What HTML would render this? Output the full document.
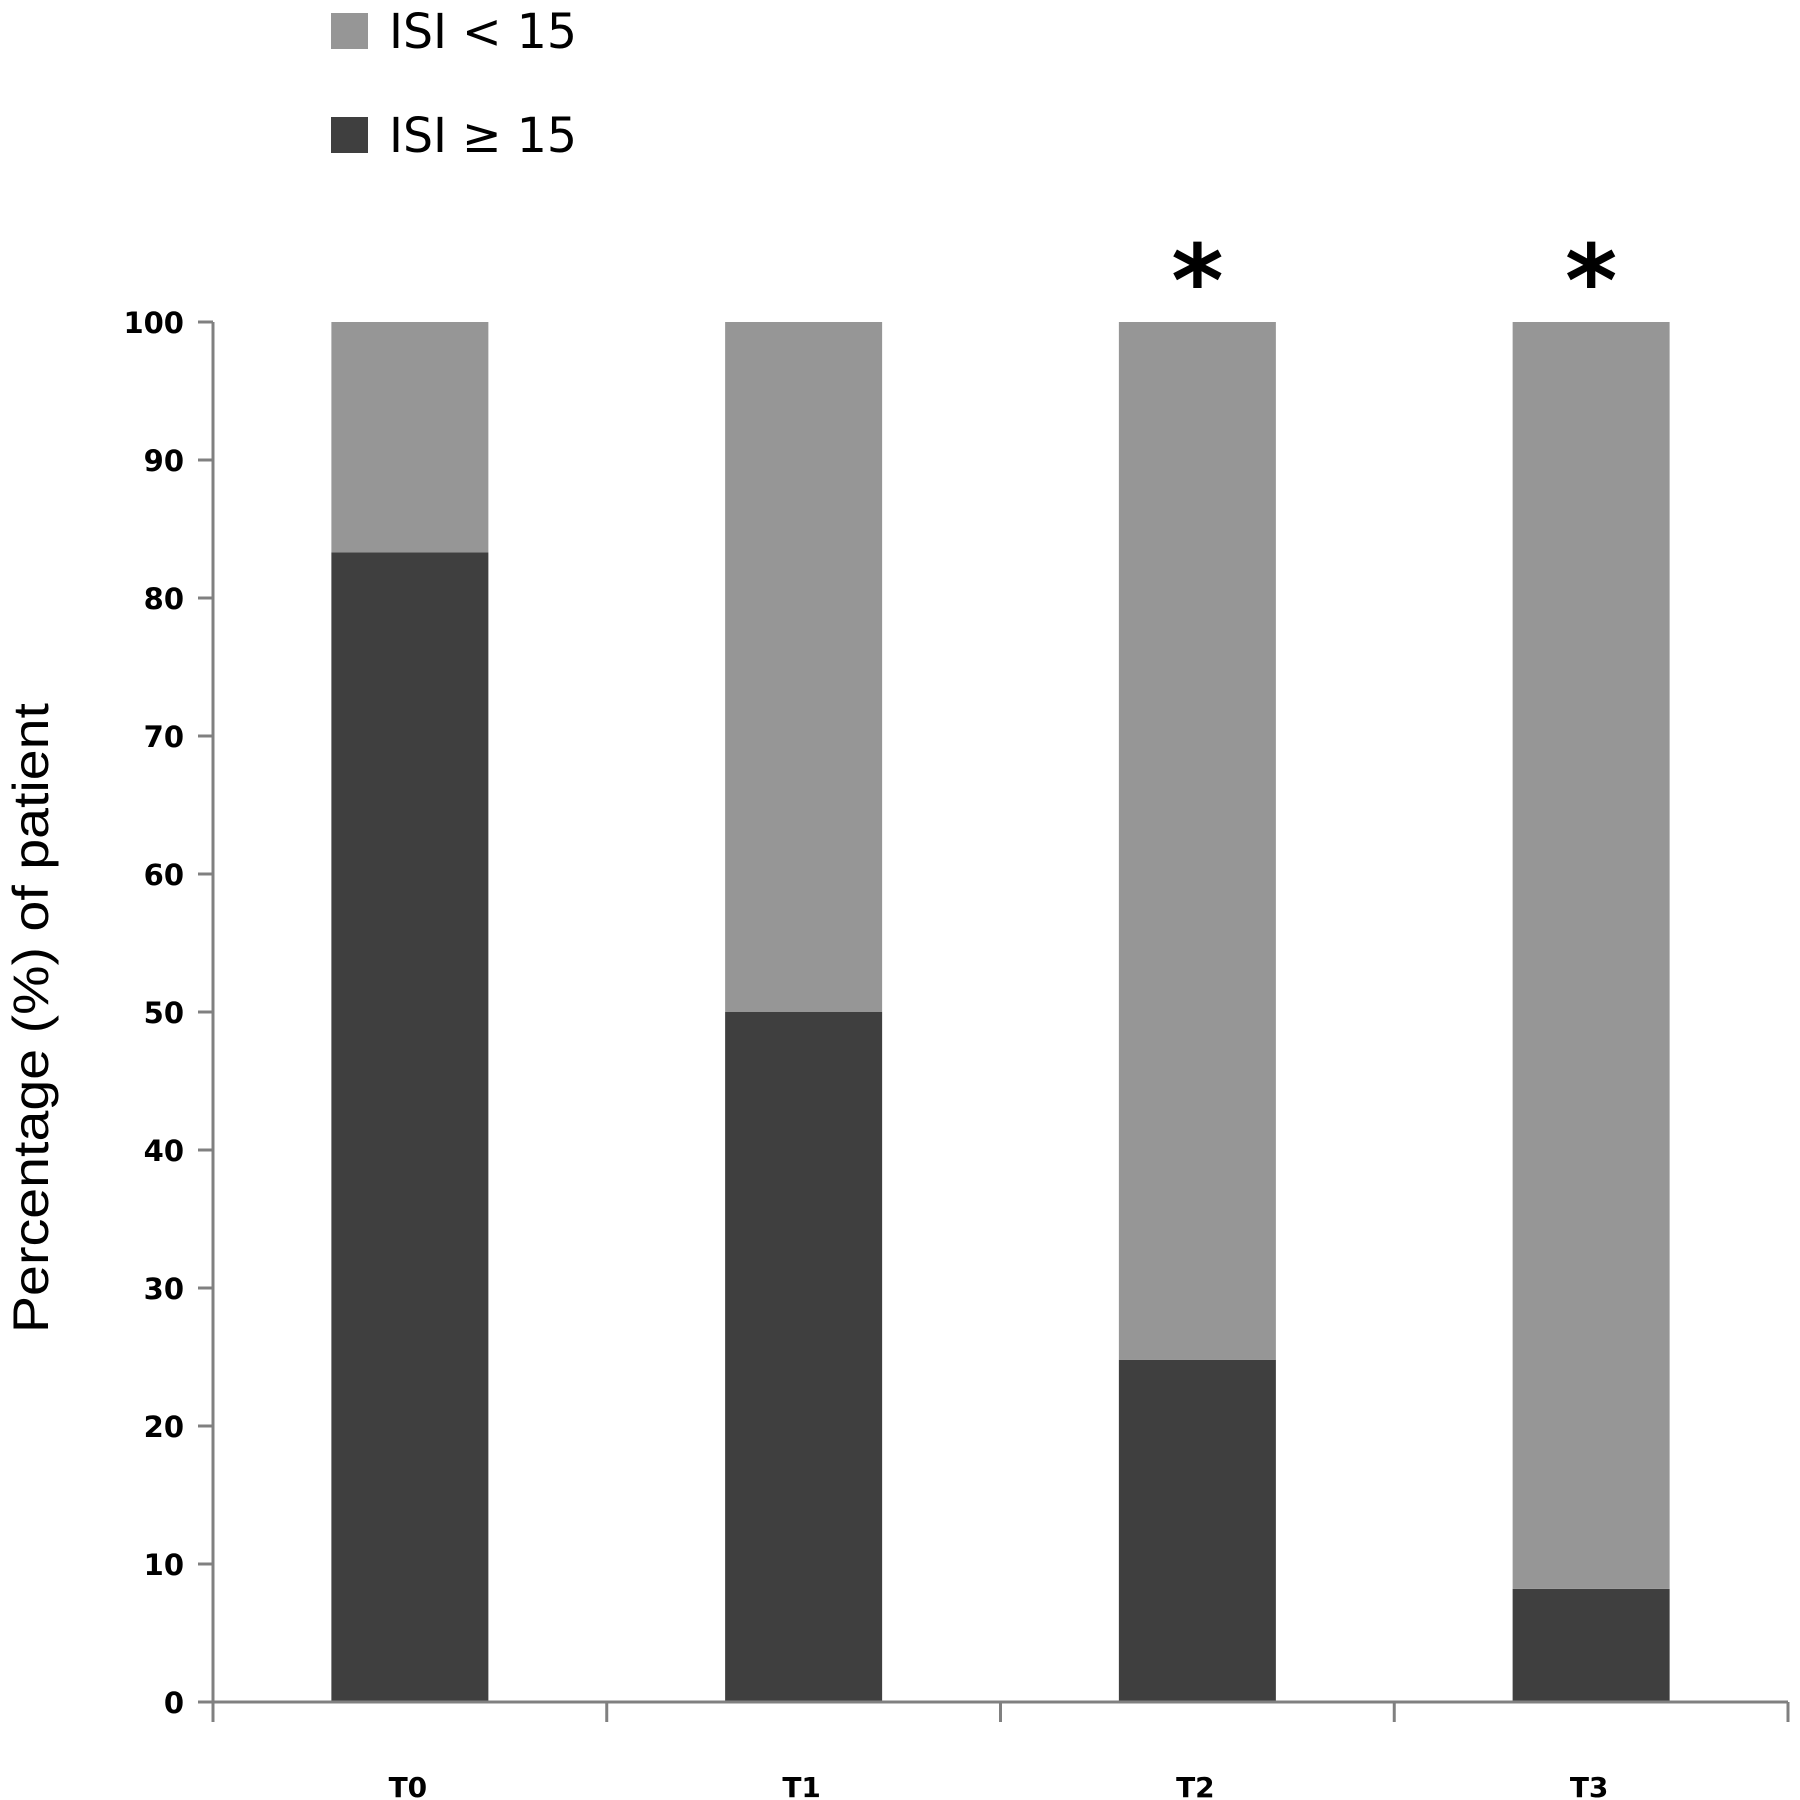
<!DOCTYPE html>
<html><head><meta charset="utf-8"><style>
body{margin:0;background:#fff;}
svg{display:block;}
</style></head><body>
<svg id="chart" width="1800" height="1800" xmlns="http://www.w3.org/2000/svg"></svg>
<script>
const categories = ["T0","T1","T2","T3"];
const highValues = [83.3, 50, 24.8, 8.2];      // ISI >= 15
const lowValues = [16.7, 50, 75.2, 91.8];      // ISI < 15
const significant = [false, false, true, true];
const yTicks = [0,10,20,30,40,50,60,70,80,90,100];

const svg = document.getElementById('chart');
const NS = 'http://www.w3.org/2000/svg';
const X0 = 213, X1 = 1788, Y0 = 1702, Y1 = 322;
const band = (X1 - X0) / categories.length;
const barW = 157;
function y(v){ return Y0 - (v/100)*(Y0-Y1); }
function xc(i){ return X0 + band*(i+0.5); }
function mk(tag, attrs, parent){
  const e = document.createElementNS(NS, tag);
  for (const k in attrs) e.setAttribute(k, attrs[k]);
  (parent||svg).appendChild(e);
  return e;
}

// bars
categories.forEach((c,i)=>{
  const d = mk('rect',{x:xc(i)-barW/2, y:y(highValues[i]), width:barW, height:Y0-y(highValues[i]), fill:'#3f3f3f'});
  
  
  const top = highValues[i] + lowValues[i];
  const l = mk('rect',{x:xc(i)-barW/2, y:y(top), width:barW, height:y(highValues[i])-y(top), fill:'#969696'});
  
  
  if (significant[i]) {
    const s = mk('text',{x:xc(i), y:316, 'text-anchor':'middle', 'font-family':'DejaVu Sans, sans-serif', 'font-weight':'bold', 'font-size':100, fill:'#000'});
    s.textContent = '*';
    
    
  }
  const t = mk('text',{x:xc(i)-2, y:1797, 'text-anchor':'middle', 'font-family':'DejaVu Sans, sans-serif', 'font-weight':'bold', 'font-size':28, fill:'#000'});
  t.textContent = c;
  
  
});

// axes
const ya = mk('line',{x1:X0, y1:Y1, x2:X0, y2:1722, stroke:'#808080', 'stroke-width':3});


const xa = mk('line',{x1:X0, y1:Y0, x2:X1, y2:Y0, stroke:'#808080', 'stroke-width':3});


for (let i=1;i<=categories.length;i++){
  const tk = mk('line',{x1:X0+band*i, y1:Y0, x2:X0+band*i, y2:1722, stroke:'#808080', 'stroke-width':3});
  
  
}
yTicks.forEach(v=>{
  const tk = mk('line',{x1:X0-15, y1:y(v), x2:X0, y2:y(v), stroke:'#808080', 'stroke-width':3});
  
  
  const t = mk('text',{x:184, y:y(v)+11, 'text-anchor':'end', 'font-family':'DejaVu Sans, sans-serif', 'font-weight':'bold', 'font-size':29, fill:'#000'});
  t.textContent = v;
  
  
});

// y title
const yt = mk('text',{x:0, y:0, transform:'translate(48,1018) rotate(-90)', 'text-anchor':'middle', 'font-family':'Liberation Sans, sans-serif', 'font-size':50, fill:'#000', textLength:630, lengthAdjust:'spacingAndGlyphs'});
yt.textContent = 'Percentage (%) of patient';



// legend
const legend = mk('g',{});


const legendLabels = ['ISI < 15', 'ISI \u2265 15'];
const legendColors = ['#969696', '#3f3f3f'];
legendLabels.forEach((lab,i)=>{
  const cy = i===0 ? 31 : 135;
  const r = mk('rect',{x:331, y:cy-18, width:37, height:36, fill:legendColors[i]}, legend);
  
  
  const t = mk('text',{x:389, y:cy+17, 'font-family':'DejaVu Sans, sans-serif', 'font-size':48, fill:'#000', textLength:188, lengthAdjust:'spacingAndGlyphs'}, legend);
  t.textContent = lab;
  
  
});
</script>
</body></html>
